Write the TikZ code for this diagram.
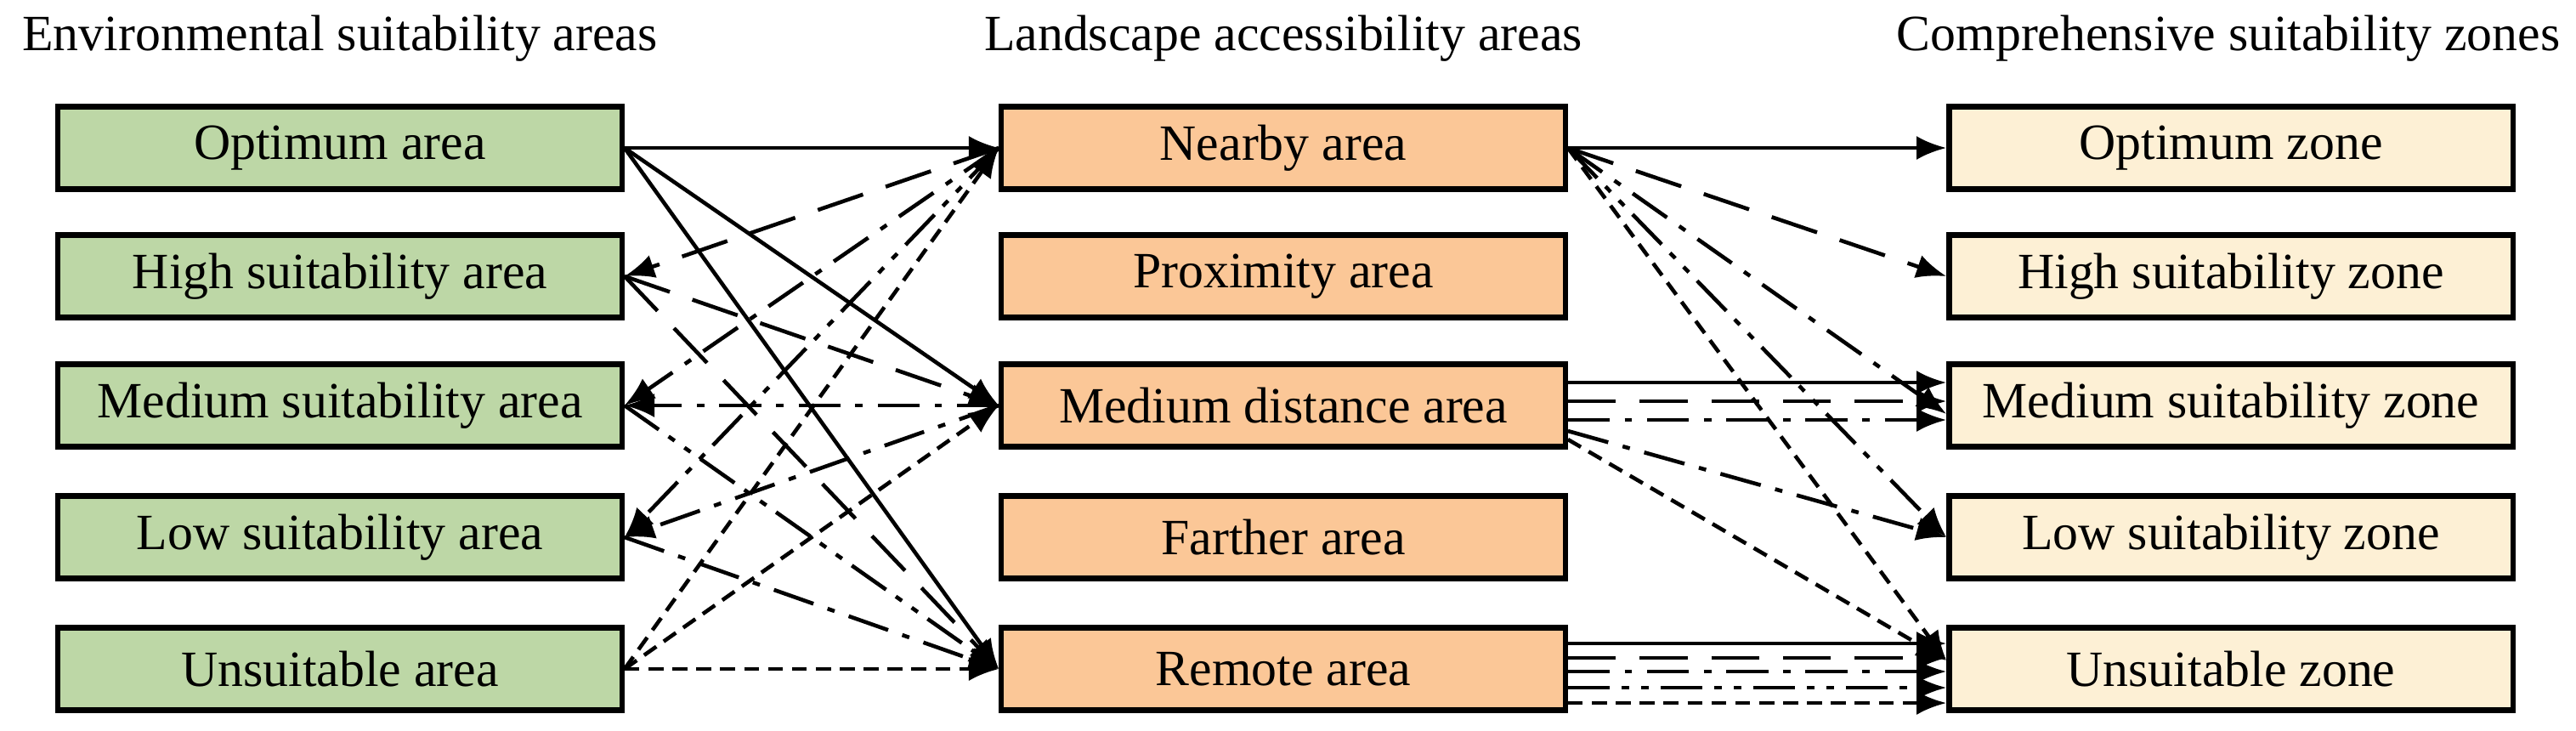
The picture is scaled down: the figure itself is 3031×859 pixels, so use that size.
\documentclass[tikz,border=0pt]{standalone}
\usepackage{fontspec}
\setmainfont{Liberation Serif}
\usetikzlibrary{arrows.meta}
\definecolor{gA}{HTML}{BDD7A6}
\definecolor{oB}{HTML}{FBC797}
\definecolor{yC}{HTML}{FDF0D5}
\begin{document}
\begin{tikzpicture}[x=0.01cm,y=-0.01cm,
 box/.style={draw,line width=1.8pt,minimum width=6.63cm,minimum height=0.97cm,font=\fontsize{17}{20}\selectfont,inner sep=0pt},
 hd/.style={font=\fontsize{17}{20}\selectfont},
 ln/.style={line width=1.3pt,-{Latex[length=10pt,width=8pt]}},
 s1/.style={ln,solid},
 s2/.style={ln,dash pattern=on 16pt off 8pt},
 s3/.style={ln,dash pattern=on 14pt off 5pt on 2.5pt off 5pt},
 s4/.style={ln,dash pattern=on 14pt off 4pt on 2.5pt off 4pt on 2.5pt off 4pt},
 s5/.style={ln,dash pattern=on 5pt off 3pt}]
\useasboundingbox (0,0) rectangle (3031,859);
\node[hd] (h1) at (400,45) {Environmental suitability areas};
\node[hd] (h2) at (1510,45) {Landscape accessibility areas};
\node[hd] (h3) at (2622,45) {Comprehensive suitability zones};
\foreach \n/\t/\y in {L1/Optimum area/174,L2/High suitability area/325,L3/Medium suitability area/477,L4/Low suitability area/632,L5/Unsuitable area/787}
 \node[box,fill=gA] (\n) at (400,\y) {\t};
\foreach \n/\t/\y in {M1/Nearby area/174,M2/Proximity area/325,M3/Medium distance area/477,M4/Farther area/632,M5/Remote area/787}
 \node[box,fill=oB] (\n) at (1510,\y) {\t};
\foreach \n/\t/\y in {R1/Optimum zone/174,R2/High suitability zone/325,R3/Medium suitability zone/477,R4/Low suitability zone/632,R5/Unsuitable zone/787}
 \node[box,fill=yC] (\n) at (2625,\y) {\t};
% left
\draw[s1] (L1.east) -- (M1.west);
\draw[s1] (L1.east) -- (M3.west);
\draw[s1] (L1.east) -- (M5.west);
\draw[s2] (M1.west) -- (L2.east);
\draw[s2] (L2.east) -- (M3.west);
\draw[s2] (L2.east) -- (M5.west);
\draw[s3] (M1.west) -- (L3.east);
\draw[s3] (M3.west) -- (L3.east);
\draw[s4] (L3.east) -- (M5.west);
\draw[s4] (M1.west) -- (L4.east);
\draw[s3] (M3.west) -- (L4.east);
\draw[s3] (L4.east) -- (M5.west);
\draw[s5] (L5.east) -- (M1.west);
\draw[s5] (L5.east) -- (M3.west);
\draw[s5] (L5.east) -- (M5.west);
% right
\draw[s1] (M1.east) -- (R1.west);
\draw[s2] (M1.east) -- (R2.west);
\draw[s3] (M1.east) -- ([yshift=-0.1cm]R3.west);
\draw[s4] (M1.east) -- (R4.west);
\draw[s5] (M1.east) -- ([yshift=0.1cm]R5.west);
\draw[s1] ([yshift=0.27cm]M3.east) -- ([yshift=0.27cm]R3.west);
\draw[s2] ([yshift=0.05cm]M3.east) -- ([yshift=0.05cm]R3.west);
\draw[s3] ([yshift=-0.17cm]M3.east) -- ([yshift=-0.17cm]R3.west);
\draw[s3] ([yshift=-0.3cm]M3.east) -- (R4.west);
\draw[s5] ([yshift=-0.4cm]M3.east) -- ([yshift=0.1cm]R5.west);
\draw[s1] ([yshift=0.3cm]M5.east) -- ([yshift=0.3cm]R5.west);
\draw[s2] ([yshift=0.13cm]M5.east) -- ([yshift=0.13cm]R5.west);
\draw[s3] ([yshift=-0.03cm]M5.east) -- ([yshift=-0.03cm]R5.west);
\draw[s4] ([yshift=-0.22cm]M5.east) -- ([yshift=-0.22cm]R5.west);
\draw[s5] ([yshift=-0.4cm]M5.east) -- ([yshift=-0.4cm]R5.west);
\end{tikzpicture}
\end{document}
